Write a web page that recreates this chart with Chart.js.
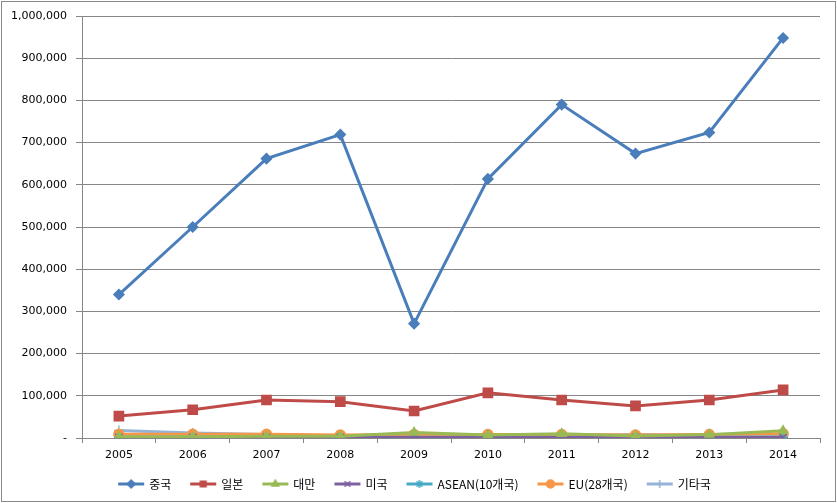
<!DOCTYPE html>
<html>
<head>
<meta charset="utf-8">
<script src="https://cdn.jsdelivr.net/npm/chart.js@4/dist/chart.umd.min.js"></script>
<style>
  html, body { margin: 0; padding: 0; background: #fff; }
  #wrap { width: 837px; height: 503px; }
</style>
</head>
<body>
<div id="wrap"><canvas id="c" width="837" height="503"></canvas></div>
<script>
// 연도
const years = ['2005', '2006', '2007', '2008', '2009', '2010', '2011', '2012', '2013', '2014'];

// 국가별 값
const china  = [340000, 500000, 662000, 719000, 271000, 614000, 790000, 674000, 724000, 948000];
const japan  = [52000, 67000, 90000, 86000, 64000, 107000, 90000, 76000, 90000, 114000];
const taiwan = [3000, 3000, 4000, 4000, 13000, 7000, 10000, 5000, 8000, 17000];
const usa    = [1000, 1000, 1000, 1000, 1000, 1000, 1000, 1000, 1000, 1000];
const asean  = [2000, 2000, 2000, 2000, 2000, 2000, 2000, 2000, 2000, 2000];
const eu     = [9000, 9000, 9000, 7000, 8000, 8000, 8000, 7000, 8000, 10000];
const etc    = [18000, 12000, 8000, 5000, 5000, 5000, 5000, 8000, 6000, 5000];

const names  = ['중국', '일본', '대만', '미국', 'ASEAN(10개국)', 'EU(28개국)', '기타국'];
const colors = ['#4A7EBB', '#BE4B48', '#98B954', '#7D60A0', '#46AAC5', '#F79646', '#95B3D7'];
const styles = ['rectRot', 'rect', 'triangle', 'crossRot', 'star', 'circle', 'cross'];
const radii  = [5, 6.5, 5, 5, 5, 5, 5];
const series = [china, japan, taiwan, usa, asean, eu, etc];

const TICK_FONT = "'DejaVu Sans', 'Noto Sans CJK KR', sans-serif";
const LEG_FONT = "'Noto Sans CJK KR', 'DejaVu Sans', sans-serif";

// 범례용 아이콘: 선 + 마커 (왼쪽은 여백)
function legendIcon(i) {
  const cv = document.createElement('canvas');
  cv.width = 40; cv.height = 12;
  const g = cv.getContext('2d');
  g.strokeStyle = colors[i];
  g.fillStyle = colors[i];
  g.lineWidth = 3;
  g.beginPath(); g.moveTo(12, 6); g.lineTo(38, 6); g.stroke();
  g.lineWidth = 1.5;
  Chart.helpers.drawPoint(g, {pointStyle: styles[i], radius: 4, borderWidth: 1.5, rotation: 0}, 25, 6);
  return cv;
}

const frame = {
  id: 'frame',
  beforeDraw(chart) {
    const ctx = chart.ctx;
    ctx.save();
    ctx.fillStyle = '#fff';
    ctx.fillRect(0, 0, chart.width, chart.height);
    ctx.strokeStyle = '#888';
    ctx.lineWidth = 1;
    ctx.strokeRect(1.5, 1.5, chart.width - 3, chart.height - 3);
    ctx.restore();
  }
};

const datasets = series.map((d, i) => ({
  label: names[i],
  data: d,
  borderColor: colors[i],
  backgroundColor: colors[i],
  borderWidth: 3,
  pointStyle: styles[i],
  pointRadius: radii[i],
  pointBorderWidth: 1.5,
  pointBorderColor: colors[i],
  pointBackgroundColor: colors[i],
  tension: 0,
  order: i === 0 ? 6 : (i === 1 ? 5 : 0)
}));

new Chart(document.getElementById('c'), {
  type: 'line',
  data: { labels: years, datasets: datasets },
  plugins: [frame],
  options: {
    responsive: false,
    animation: false,
    layout: { padding: { left: 0, right: 17, top: 16, bottom: 3 } },
    plugins: {
      tooltip: { enabled: false },
      legend: {
        position: 'bottom',
        labels: {
          usePointStyle: true,
          pointStyleWidth: 34,
          boxHeight: 12,
          padding: 10,
          color: '#000',
          font: { family: LEG_FONT, size: 12 },
          generateLabels(chart) {
            return chart.data.datasets.map((ds, i) => ({
              text: ds.label,
              pointStyle: legendIcon(i),
              fillStyle: colors[i],
              strokeStyle: colors[i],
              lineWidth: 0,
              fontColor: '#000',
              datasetIndex: i
            }));
          }
        }
      }
    },
    scales: {
      x: {
        offset: true,
        grid: {
          offset: true,
          drawOnChartArea: false,
          drawTicks: true,
          tickLength: 5,
          color: '#868686'
        },
        border: { color: '#868686' },
        ticks: { color: '#000', font: { family: TICK_FONT, size: 11 }, padding: 6, maxRotation: 0 },
        afterFit(s) { s.height = 30; }
      },
      y: {
        min: 0,
        max: 1000000,
        grid: { color: '#868686', tickLength: 6 },
        border: { color: '#868686' },
        ticks: {
          stepSize: 100000,
          color: '#000',
          padding: 9,
          font: { family: TICK_FONT, size: 11 },
          callback: v => v === 0 ? '-' : v.toLocaleString('en-US')
        },
        afterFit(s) { s.width = 82; }
      }
    }
  }
});
</script>
</body>
</html>
